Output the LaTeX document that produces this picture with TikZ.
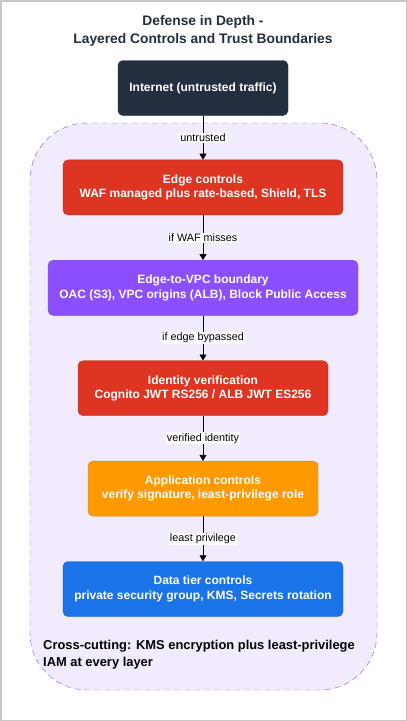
\documentclass[tikz,border=0pt]{standalone}
\usepackage{fontspec}
\setmainfont{Liberation Sans}
\usetikzlibrary{positioning,arrows.meta}
\definecolor{InetDark}{HTML}{232F3E}
\definecolor{EdgeRed}{HTML}{DD3522}
\definecolor{VpcPurple}{HTML}{8C4FFF}
\definecolor{AppOrange}{HTML}{FF9900}
\definecolor{DataBlue}{HTML}{1A73E8}
\definecolor{ZoneFill}{HTML}{F2EBFD}
\definecolor{FrameGray}{HTML}{C8C8C8}

\begin{document}
\begin{tikzpicture}[
    x=1pt, y=-1pt,
    node distance=45pt,
    layer/.style={rounded corners=5pt, minimum height=55pt, align=center,
      text=white, font=\fontsize{12}{14.5}\selectfont\bfseries, inner sep=2pt},
    flow/.style={-{Triangle[length=6pt,width=7pt]}, thick, black},
    tag/.style={fill=white, inner sep=1pt, font=\fontsize{10.8}{12}\selectfont}
  ]
    % frame and trust zone
    \draw[FrameGray, line width=1.5pt, fill=white] (0.75,0.75) rectangle (406.25,720.25);
    \draw[VpcPurple, fill=ZoneFill, dashed, dash pattern=on 6pt off 4pt,
      rounded corners=57pt] (30,123) rectangle (377,690);
    \node[align=center, text=InetDark, font=\fontsize{13.8}{17.5}\selectfont\bfseries]
      (title) at (203,31) {Defense in Depth -\\Layered Controls and Trust Boundaries};
    \node[layer, fill=InetDark, draw=InetDark, minimum width=170pt] (inet) at (203,88) {Internet (untrusted traffic)};
    \node[layer, fill=EdgeRed, draw=EdgeRed!85!black, minimum width=280pt, below=44pt of inet] (edge)
      {Edge controls\\WAF managed plus rate-based, Shield, TLS};
    \node[layer, fill=VpcPurple, draw=VpcPurple!85!black, minimum width=310pt, below=of edge] (vpc)
      {Edge-to-VPC boundary\\OAC (S3), VPC origins (ALB), Block Public Access};
    \node[layer, fill=EdgeRed, draw=EdgeRed!85!black, minimum width=250pt, below=of vpc] (ident)
      {Identity verification\\Cognito JWT RS256 / ALB JWT ES256};
    \node[layer, fill=AppOrange, draw=AppOrange!85!black, minimum width=230pt, below=of ident] (app)
      {Application controls\\verify signature, least-privilege role};
    \node[layer, fill=DataBlue, draw=DataBlue!85!black, minimum width=280pt, below=of app] (data)
      {Data tier controls\\private security group, KMS, Secrets rotation};
    \draw[flow] (inet) -- node[tag] {untrusted} (edge);
    \draw[flow] (edge) -- node[tag] {if WAF misses} (vpc);
    \draw[flow] (vpc) -- node[tag] {if edge bypassed} (ident);
    \draw[flow] (ident) -- node[tag] {verified identity} (app);
    \draw[flow] (app) -- node[tag] {least privilege} (data);
    \node[anchor=north west, align=left, inner sep=0pt,
      font=\fontsize{12.9}{16.7}\selectfont\bfseries] (cross) at (43,640)
      {Cross-cutting: KMS encryption plus least-privilege\\IAM at every layer};
  \end{tikzpicture}
\end{document}
